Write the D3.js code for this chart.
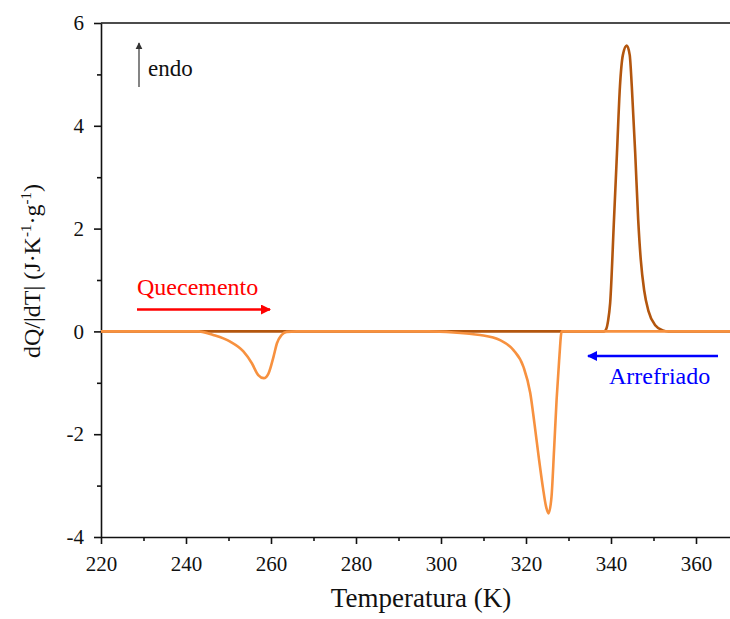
<!DOCTYPE html>
<html><head><meta charset="utf-8">
<script src="https://cdn.jsdelivr.net/npm/d3@7"></script>
<style>body{margin:0;background:#fff}svg{display:block}</style>
</head><body>
<svg id="c" width="730" height="619"></svg>
<script>
// Heating curve (dark brown)
const heatT = [220, 338.4, 338.9, 339.3, 339.8, 340.7, 341.4, 342.1, 342.8, 343.7, 344.4, 344.9, 345.7, 346.4, 347.0, 347.8, 348.8, 350.4, 352.2, 353.5, 368];
const heatV = [0, 0, 0.05, 0.2, 0.55, 2.17, 3.46, 4.76, 5.38, 5.56, 5.38, 4.76, 3.46, 2.17, 1.4, 0.8, 0.4, 0.12, 0.02, 0, 0];
// Cooling curve (orange)
const coolT = [220, 243, 246.4, 250.4, 253.5, 255.5, 257.0, 258.3, 259.4, 260.6, 261.4, 262.5, 263.7, 266, 297, 303, 306, 309.2, 313.9, 317.0, 319.4, 321.0, 322.0, 323.0, 324.0, 324.7, 325.3, 326.0, 326.6, 327.2, 327.8, 328.4, 368];
const coolV = [0, 0, -0.07, -0.2, -0.39, -0.62, -0.85, -0.91, -0.82, -0.49, -0.23, -0.07, -0.01, 0, 0, -0.02, -0.04, -0.07, -0.17, -0.36, -0.69, -1.2, -1.8, -2.45, -3.05, -3.4, -3.54, -3.22, -2.31, -1.33, -0.56, 0, 0];
const xTicks = [220, 240, 260, 280, 300, 320, 340, 360];
const xMinor = [230, 250, 270, 290, 310, 330, 350];
const yTicks = [-4, -2, 0, 2, 4, 6];
const yMinor = [-3, -1, 1, 3, 5];

const svg = d3.select("#c");
const font = "'Liberation Serif','Times New Roman',serif";
const x = d3.scaleLinear().domain([220, 368]).range([101, 730]);
const y = d3.scaleLinear().domain([-4, 6]).range([537, 23]);

// top frame line
svg.append("line").attr("x1", x(220)).attr("x2", 730).attr("y1", y(6)).attr("y2", y(6))
  .attr("stroke", "#111").attr("stroke-width", 1.6);

function styleAxis(g) {
  g.selectAll("path,line").attr("stroke", "#111").attr("stroke-width", 1.6);
  g.selectAll("text").attr("font-family", font).attr("font-size", 21).attr("fill", "#111");
}
const fmt = d => String(d);
const xa = svg.append("g").attr("transform", `translate(0,${y(-4)})`)
  .call(d3.axisBottom(x).tickValues(xTicks).tickFormat(fmt).tickSize(7).tickSizeOuter(0).tickPadding(12));
styleAxis(xa);
const xm = svg.append("g").attr("transform", `translate(0,${y(-4)})`)
  .call(d3.axisBottom(x).tickValues(xMinor).tickFormat("").tickSize(4).tickSizeOuter(0));
styleAxis(xm); xm.select("path").remove();

const ya = svg.append("g").attr("transform", `translate(${x(220)},0)`)
  .call(d3.axisLeft(y).tickValues(yTicks).tickFormat(fmt).tickSize(7).tickSizeOuter(0).tickPadding(10));
styleAxis(ya);
const ym = svg.append("g").attr("transform", `translate(${x(220)},0)`)
  .call(d3.axisLeft(y).tickValues(yMinor).tickFormat("").tickSize(4).tickSizeOuter(0));
styleAxis(ym); ym.select("path").remove();

const line = d3.line().x(d => x(d[0])).y(d => y(d[1])).curve(d3.curveMonotoneX);
svg.append("path").datum(heatT.map((t, i) => [t, heatV[i]])).attr("d", line)
  .attr("fill", "none").attr("stroke", "#B3560E").attr("stroke-width", 2.6);
svg.append("path").datum(coolT.map((t, i) => [t, coolV[i]])).attr("d", line)
  .attr("fill", "none").attr("stroke", "#F7913F").attr("stroke-width", 2.6);

// titles
svg.append("text").attr("x", 421).attr("y", 607).attr("text-anchor", "middle")
  .attr("font-family", font).attr("font-size", 27).attr("fill", "#111").text("Temperatura (K)");
const yt = svg.append("text").attr("transform", "translate(40,271) rotate(-90)").attr("text-anchor", "middle")
  .attr("font-family", font).attr("font-size", 24).attr("fill", "#111");
yt.append("tspan").text("dQ/|dT| (J·K");
yt.append("tspan").attr("dy", -9).attr("font-size", 15).text("-1");
yt.append("tspan").attr("dy", 9).text("·g");
yt.append("tspan").attr("dy", -9).attr("font-size", 15).text("-1");
yt.append("tspan").attr("dy", 9).text(")");

// arrow markers
const defs = svg.append("defs");
[["red", "#FF0000"], ["blue", "#0000FF"], ["grey", "#333"]].forEach(([id, c]) => {
  defs.append("marker").attr("id", "ah-" + id).attr("viewBox", "0 0 10 10").attr("refX", 9).attr("refY", 5)
    .attr("markerUnits", "userSpaceOnUse")
    .attr("markerWidth", id === "grey" ? 7 : 14).attr("markerHeight", id === "grey" ? 11 : 10).attr("orient", "auto")
    .append("path").attr("d", "M0,0 L10,5 L0,10 z").attr("fill", c);
});

// endo
svg.append("line").attr("x1", 139).attr("x2", 139).attr("y1", 87).attr("y2", 43)
  .attr("stroke", "#333").attr("stroke-width", 1.2).attr("marker-end", "url(#ah-grey)");
svg.append("text").attr("x", 148).attr("y", 76).attr("font-family", font).attr("font-size", 23)
  .attr("fill", "#111").text("endo");

// heating annotation
svg.append("text").attr("x", 137).attr("y", 295).attr("font-family", font).attr("font-size", 24)
  .attr("fill", "#FF0000").text("Quecemento");
svg.append("line").attr("x1", 137).attr("x2", 270).attr("y1", 309.5).attr("y2", 309.5)
  .attr("stroke", "#FF0000").attr("stroke-width", 2.5).attr("marker-end", "url(#ah-red)");

// cooling annotation
svg.append("line").attr("x1", 718).attr("x2", 588).attr("y1", 356).attr("y2", 356)
  .attr("stroke", "#0000FF").attr("stroke-width", 2.5).attr("marker-end", "url(#ah-blue)");
svg.append("text").attr("x", 609).attr("y", 384).attr("font-family", font).attr("font-size", 24)
  .attr("fill", "#0000FF").text("Arrefriado");
</script>
</body></html>
